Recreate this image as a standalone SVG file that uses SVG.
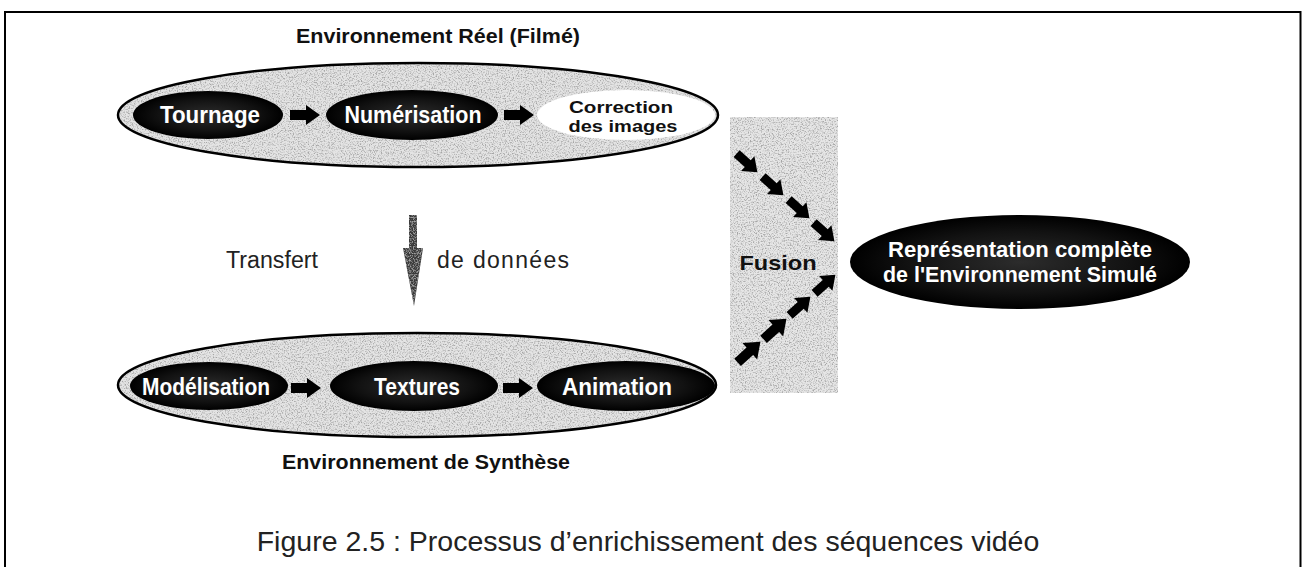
<svg xmlns="http://www.w3.org/2000/svg" width="1303" height="567" viewBox="0 0 1303 567">
  <style>
    .lbl { font-family: "Liberation Sans", Arial, sans-serif; font-weight: bold; fill: #111; text-anchor: middle; }
    .node-txt { font-family: "Liberation Sans", Arial, sans-serif; font-weight: bold; fill: #fff; text-anchor: middle; }
    .plain { font-family: "Liberation Sans", Arial, sans-serif; fill: #222; }
    .dark { fill: url(#darkFill); }
    .ring { fill: none; stroke: #000; stroke-width: 2.5; }
    .blk { fill: #000; }
  </style>
  <defs>
    <!-- speckled grey texture used inside the stage ovals and the fusion band -->
    <filter id="grain" x="0" y="0" width="100%" height="100%">
      <feTurbulence type="fractalNoise" baseFrequency="0.75" numOctaves="2" seed="7" result="noise"/>
      <feColorMatrix in="noise" type="matrix" values="0 0 0 0 0.38  0 0 0 0 0.38  0 0 0 0 0.38  3.4 0 0 0 -1.55" result="spk"/>
      <feComposite in="spk" in2="SourceGraphic" operator="in" result="clipped"/>
      <feMerge>
        <feMergeNode in="SourceGraphic"/>
        <feMergeNode in="clipped"/>
      </feMerge>
    </filter>
    <radialGradient id="darkFill" cx="0.5" cy="0.5" r="0.5">
      <stop offset="0" stop-color="#2c2c2c"/>
      <stop offset="0.65" stop-color="#121212"/>
      <stop offset="1" stop-color="#000"/>
    </radialGradient>
    <!-- block arrow pointing right, centred on the origin -->
    <polygon id="blockArrow" points="-15,-5 1,-5 1,-10 15,0 1,10 1,5 -15,5"/>
    <polygon id="fuseArrow" points="-14,-4.5 1,-4.5 1,-10 14,0 1,10 1,4.5 -14,4.5"/>
  </defs>

  <rect width="1303" height="567" fill="#fff"/>

  <!-- outer frame -->
  <rect x="5" y="12" width="1295.5" height="600" fill="none" stroke="#000" stroke-width="2"/>

  <!-- real (filmed) environment -->
  <g id="env-reel">
    <text class="lbl" x="438" y="43" font-size="20" textLength="284" lengthAdjust="spacingAndGlyphs">Environnement Réel (Filmé)</text>
    <ellipse cx="418" cy="115" rx="300" ry="52" fill="#e4e4e4" filter="url(#grain)"/>
    <ellipse class="ring" cx="418" cy="115" rx="300" ry="52"/>
  </g>
  <g id="tournage">
    <ellipse class="dark" cx="208" cy="115" rx="75" ry="24"/>
    <text class="node-txt" x="210" y="123" font-size="24" textLength="100" lengthAdjust="spacingAndGlyphs">Tournage</text>
  </g>
  <g id="numerisation">
    <ellipse class="dark" cx="412" cy="115" rx="86" ry="25"/>
    <text class="node-txt" x="413" y="123" font-size="24" textLength="137" lengthAdjust="spacingAndGlyphs">Numérisation</text>
  </g>
  <g id="correction">
    <ellipse cx="626" cy="115" rx="89" ry="25" fill="#fff"/>
    <text class="lbl" x="621" y="113" font-size="17" textLength="104" lengthAdjust="spacingAndGlyphs">Correction</text>
    <text class="lbl" x="623" y="132" font-size="17" textLength="109" lengthAdjust="spacingAndGlyphs">des images</text>
  </g>

  <!-- synthetic environment -->
  <g id="env-synthese">
    <ellipse cx="417" cy="385" rx="299" ry="52" fill="#e4e4e4" filter="url(#grain)"/>
    <ellipse class="ring" cx="417" cy="385" rx="299" ry="52"/>
    <text class="lbl" x="426" y="469" font-size="20" textLength="288" lengthAdjust="spacingAndGlyphs">Environnement de Synthèse</text>
  </g>
  <g id="modelisation">
    <ellipse class="dark" cx="209" cy="386" rx="79" ry="24"/>
    <text class="node-txt" x="206" y="395" font-size="24" textLength="128" lengthAdjust="spacingAndGlyphs">Modélisation</text>
  </g>
  <g id="textures">
    <ellipse class="dark" cx="414" cy="386" rx="84" ry="25"/>
    <text class="node-txt" x="417" y="395" font-size="24" textLength="86" lengthAdjust="spacingAndGlyphs">Textures</text>
  </g>
  <g id="animation">
    <ellipse class="dark" cx="626" cy="386" rx="89" ry="25"/>
    <text class="node-txt" x="617" y="395" font-size="24" textLength="110" lengthAdjust="spacingAndGlyphs">Animation</text>
  </g>

  <!-- fusion band -->
  <g id="fusion">
    <rect x="730" y="117" width="108" height="276" fill="#e6e6e6" filter="url(#grain)"/>
    <text class="lbl" x="778" y="270" font-size="21" fill="#000" textLength="77" lengthAdjust="spacingAndGlyphs">Fusion</text>
  </g>

  <!-- merged result -->
  <g id="representation">
    <ellipse class="dark" cx="1020" cy="262" rx="170" ry="47"/>
    <text class="node-txt" x="1020" y="257" font-size="21.5" textLength="264" lengthAdjust="spacingAndGlyphs">Représentation complète</text>
    <text class="node-txt" x="1020" y="282" font-size="21.5" textLength="274" lengthAdjust="spacingAndGlyphs">de l'Environnement Simulé</text>
  </g>

  <!-- connectors -->
  <g id="connectors">
    <use href="#blockArrow" class="blk" transform="translate(305,115)"/>
    <use href="#blockArrow" class="blk" transform="translate(519,115)"/>
    <use href="#blockArrow" class="blk" transform="translate(306,388)"/>
    <use href="#blockArrow" class="blk" transform="translate(518,388)"/>

    <!-- data transfer arrow -->
    <polygon points="409,215 417,215 417,248 423,248 414,306 403,248 409,248" fill="#3a3a3a" filter="url(#grain)"/>
    <text class="plain" x="226" y="268" font-size="23" textLength="92" lengthAdjust="spacingAndGlyphs">Transfert</text>
    <text class="plain" x="437" y="268" font-size="23" textLength="132" lengthAdjust="spacing">de données</text>

    <!-- into the fusion, from the filmed side -->
    <use href="#fuseArrow" class="blk" transform="translate(747,163) rotate(42)"/>
    <use href="#fuseArrow" class="blk" transform="translate(773,186) rotate(42)"/>
    <use href="#fuseArrow" class="blk" transform="translate(799,209) rotate(42)"/>
    <use href="#fuseArrow" class="blk" transform="translate(824,232) rotate(42)"/>
    <!-- into the fusion, from the synthetic side -->
    <use href="#fuseArrow" class="blk" transform="translate(749,352) rotate(-42) scale(1.1)"/>
    <use href="#fuseArrow" class="blk" transform="translate(775,329) rotate(-42) scale(1.1)"/>
    <use href="#fuseArrow" class="blk" transform="translate(800,306) rotate(-42)"/>
    <use href="#fuseArrow" class="blk" transform="translate(825,284) rotate(-42)"/>
  </g>

  <text class="plain" x="648" y="551" font-size="28.5" text-anchor="middle" fill="#111">Figure 2.5 : Processus d’enrichissement des séquences vidéo</text>
</svg>
